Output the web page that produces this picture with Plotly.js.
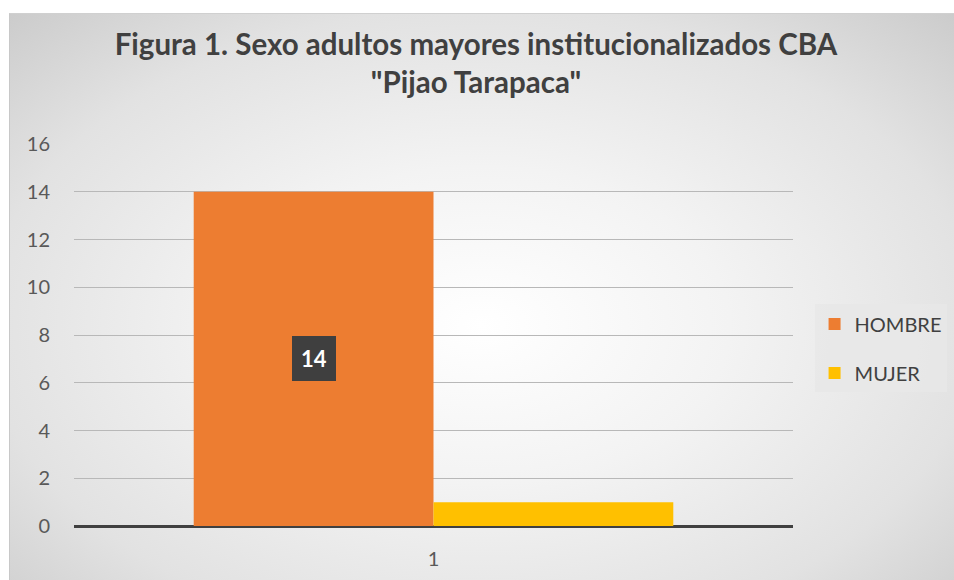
<!DOCTYPE html>
<html>
<head>
<meta charset="utf-8">
<script src="https://cdn.plot.ly/plotly-3.0.1.min.js"></script>
<style>
  html, body { margin: 0; padding: 0; background: #ffffff; }
  #wrap { position: relative; width: 954px; height: 580px; overflow: hidden; background: #ffffff; }
  #frame { position: absolute; left: 9px; top: 13px; width: 945px; height: 567px;
    background: radial-gradient(ellipse 75% 80% at 50% 55%, #ffffff 0%, #f3f3f3 35%, #e2e2e2 70%, #c8c8c8 100%);
    border-top: 1px solid #d0d0d0; border-left: 1px solid #c8c8c8; box-sizing: border-box; }
  #chart { position: absolute; left: 0; top: 0; width: 954px; height: 580px; }
</style>
</head>
<body>
<div id="wrap">
  <div id="frame"></div>
  <div id="chart"></div>
</div>
<script>
const categories = ["1"];
const seriesNames = ["HOMBRE", "MUJER"];
const hombre = [14];
const mujer = [1];
const yTicks = [0, 2, 4, 6, 8, 10, 12, 14, 16];

const colors = ["#ED7D31", "#FFC000"];
const bargap = 0.333;
const font = "Lato, 'Open Sans', sans-serif";

const traces = [
  { type: "bar", name: seriesNames[0], x: categories, y: hombre,
    marker: { color: colors[0] }, legendgroup: "a", hoverinfo: "none" },
  { type: "bar", name: seriesNames[1], x: categories, y: mujer,
    marker: { color: colors[1] }, legendgroup: "b", hoverinfo: "none" }
];

// data label for HOMBRE, centered in its bar
const nSeries = traces.length;
const barW = (1 - bargap) / nSeries;
const annotations = hombre.map((v, i) => ({
  x: i - (1 - bargap) / 2 + barW / 2, y: v / 2, xref: "x", yref: "y",
  text: "<b>" + v + "</b>", showarrow: false,
  font: { family: font, size: 22, color: "#ffffff" },
  bgcolor: "#3f3f3f", borderpad: 8, bordercolor: "#3f3f3f", borderwidth: 1
}));

const layout = {
  width: 954, height: 580,
  margin: { l: 74, r: 161, t: 144, b: 54, autoexpand: false },
  paper_bgcolor: "rgba(0,0,0,0)", plot_bgcolor: "rgba(0,0,0,0)",
  barmode: "group", bargap: bargap, bargroupgap: 0,
  title: {
    text: "<b>Figura 1. Sexo adultos mayores institucionalizados CBA<br>\"Pijao Tarapaca\"</b>",
    font: { family: font, size: 29.5, color: "#404040" },
    x: 476 / 954, xanchor: "center", xref: "container",
    y: 1 - 55 / 580, yanchor: "middle", yref: "container"
  },
  xaxis: {
    type: "category", range: [-0.5, categories.length - 0.5],
    showgrid: false, zeroline: false, showline: false,
    ticks: "outside", ticklen: 15, tickcolor: "rgba(0,0,0,0)",
    tickfont: { family: font, size: 20, color: "#595959" }
  },
  yaxis: {
    range: [0, 16], tickvals: yTicks, ticktext: yTicks.map(String),
    showgrid: true, gridcolor: "#b8b8b8", gridwidth: 1,
    zeroline: true, zerolinecolor: "#404040", zerolinewidth: 3,
    showline: false, ticks: "outside", ticklen: 19, tickcolor: "rgba(0,0,0,0)",
    tickfont: { family: font, size: 20, color: "#595959" }
  },
  legend: {
    x: 1.03, xanchor: "left", y: 0.58, yanchor: "top",
    bgcolor: "rgba(232,232,232,0.85)", borderwidth: 0,
    font: { family: font, size: 20, color: "#404040" },
    traceorder: "grouped", tracegroupgap: 20,
    itemwidth: 30
  },
  annotations: annotations,
  showlegend: true
};

Plotly.newPlot("chart", traces, layout, { displayModeBar: false, staticPlot: true });
</script>
</body>
</html>
